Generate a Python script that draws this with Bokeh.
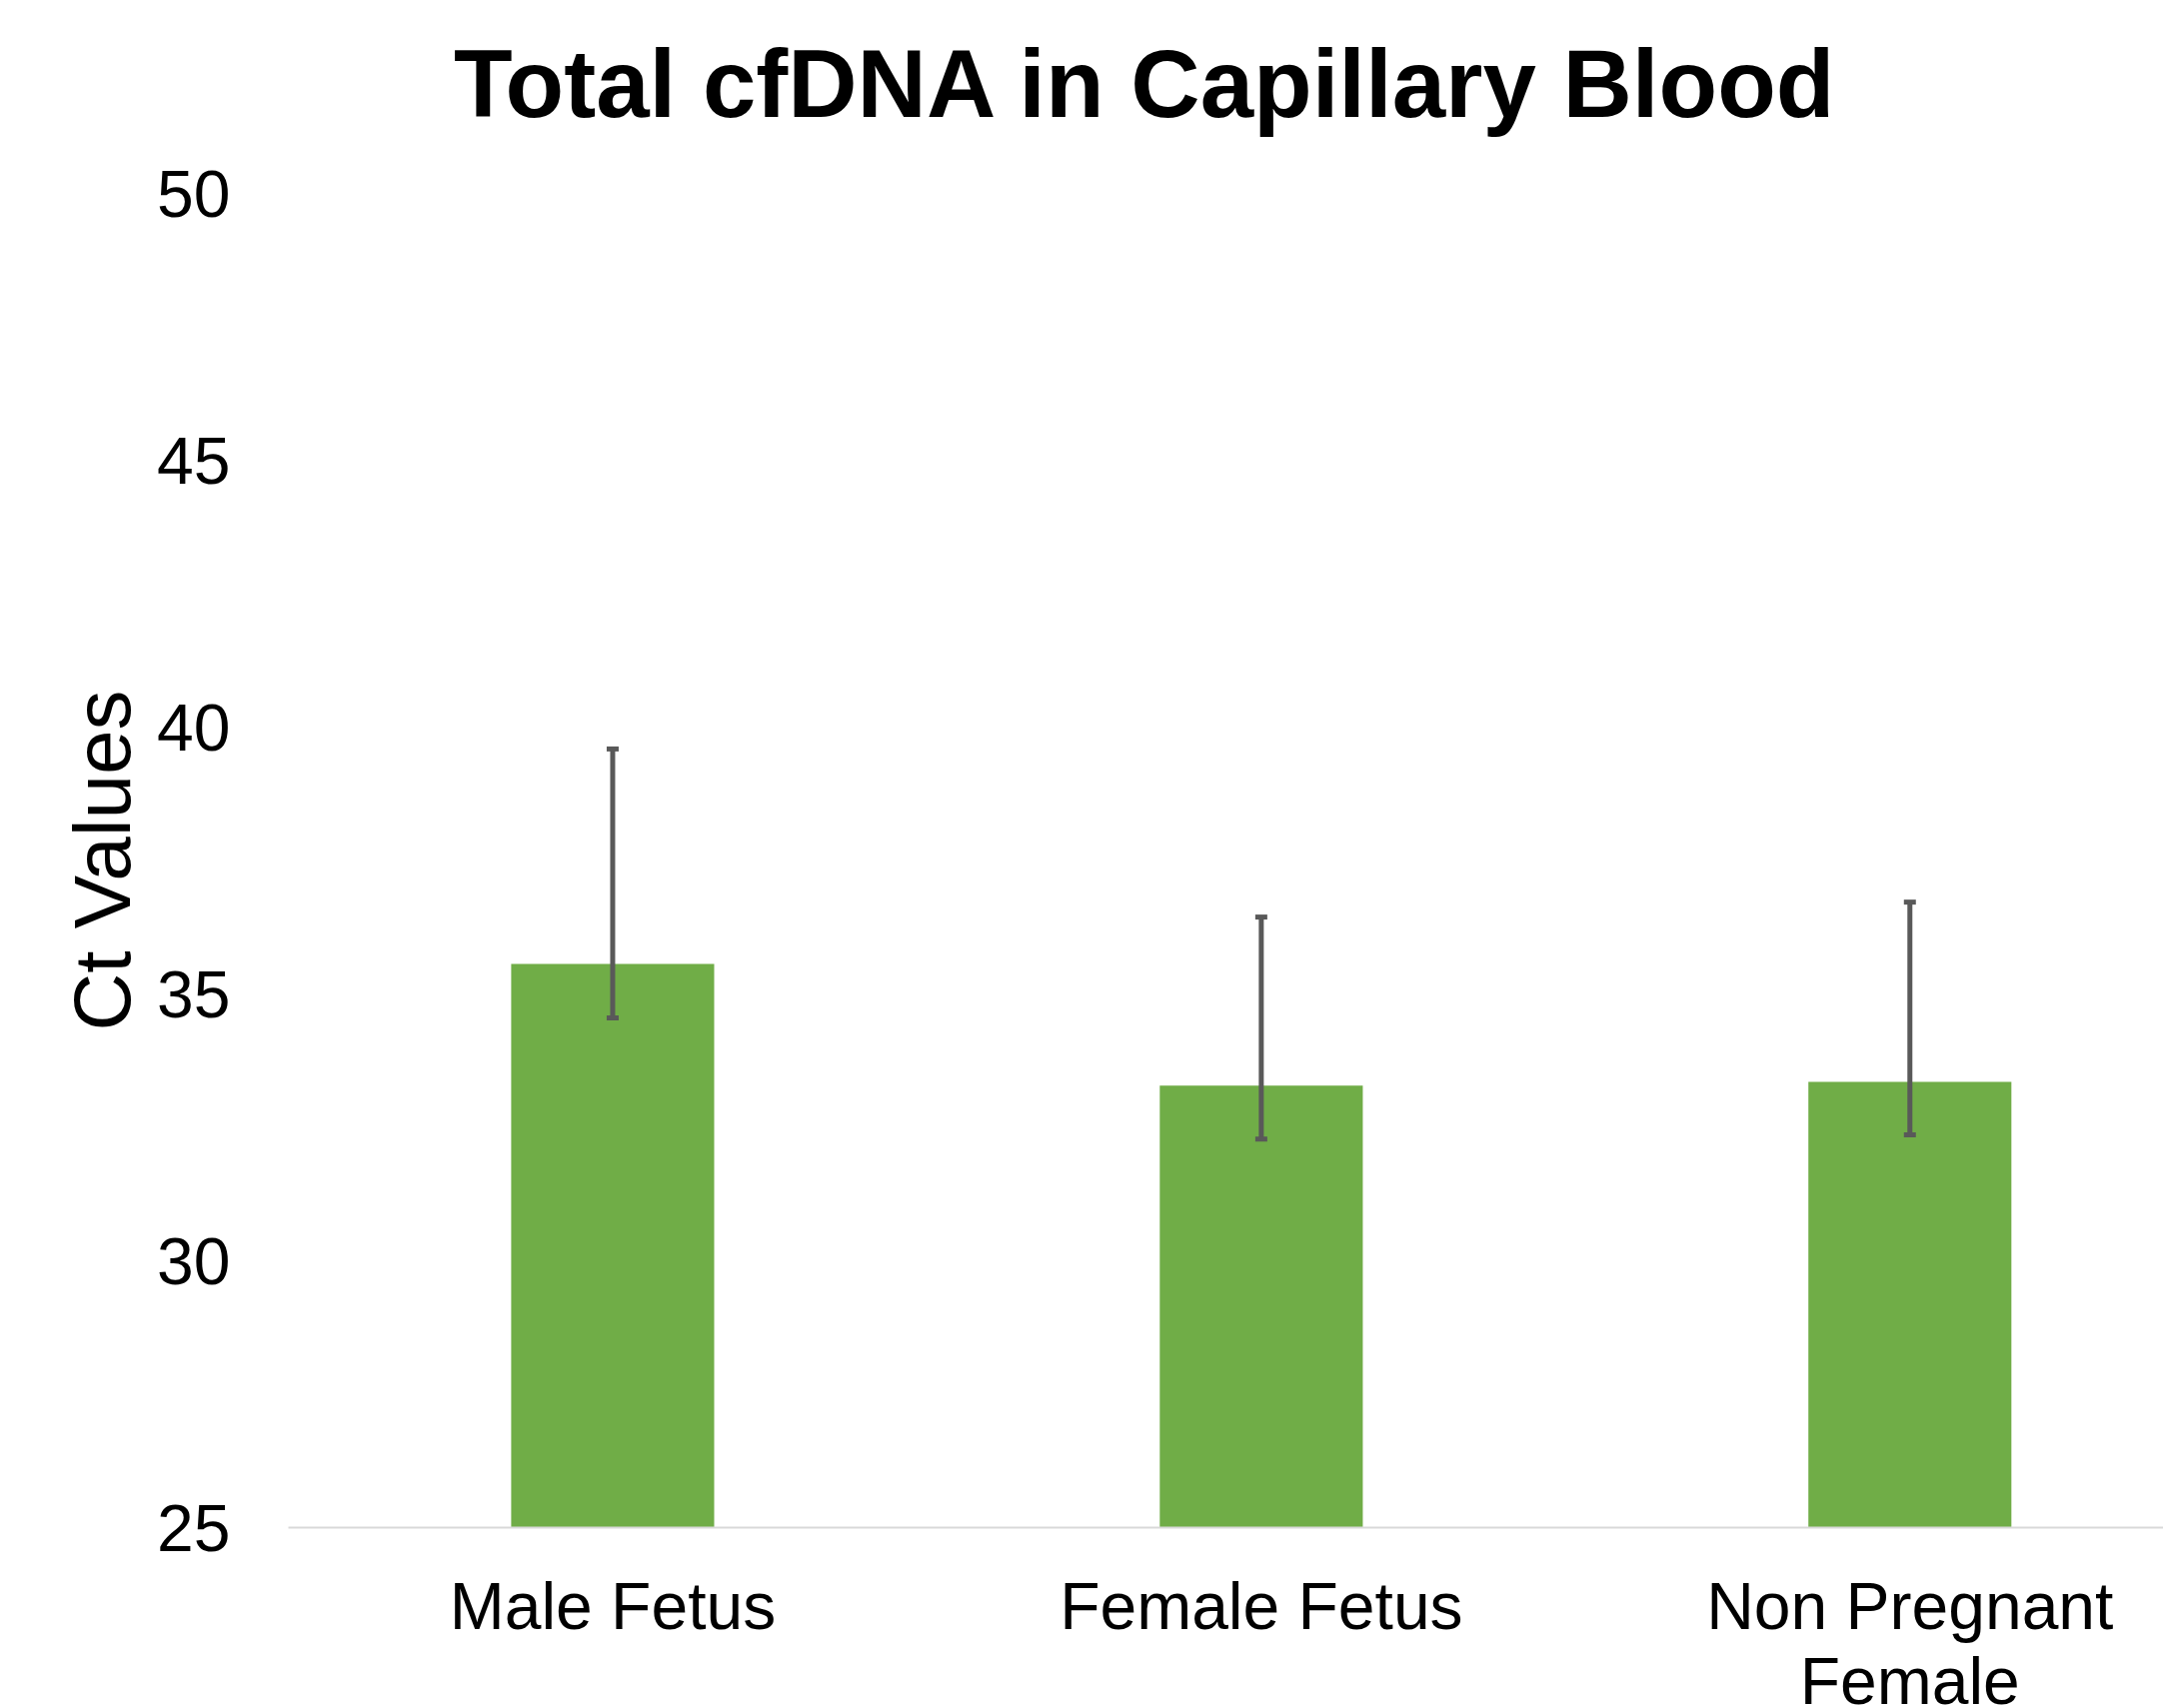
from bokeh.plotting import figure
from bokeh.layouts import column
from bokeh.models import Range1d, FixedTicker, ColumnDataSource, Whisker, TeeHead
from bokeh.core.properties import value
from bokeh.embed import file_html
from bokeh.resources import INLINE

title_text = "Total cfDNA in Capillary Blood"
categories = ["Male Fetus", "Female Fetus", "Non Pregnant\nFemale"]
ct_mean = [35.56, 33.28, 33.35]
err_upper = [39.59, 36.44, 36.72]
err_lower = [34.55, 32.28, 32.36]
y_ticks = [25, 30, 35, 40, 45, 50]

FONT = "Liberation Sans"
W, H = 2164, 1709
LEFT = 288
FRAME_TOP, FRAME_BOTTOM = 193, 1528
TOP_H = 153          # title strip height
MAIN_END = 1567      # where the category-label strip begins
xs = list(range(len(categories)))


def bare(fig):
    fig.outline_line_color = None
    fig.xgrid.grid_line_color = None
    fig.ygrid.grid_line_color = None
    fig.background_fill_color = "white"
    fig.border_fill_color = "white"


# ---- title strip (x in page pixels)
t = figure(width=W, height=TOP_H, output_backend="svg", toolbar_location=None,
           x_range=Range1d(LEFT, W), y_range=Range1d(-TOP_H, 0),
           x_axis_location=None, y_axis_location=None,
           min_border_left=LEFT, min_border_right=0, min_border_top=0, min_border_bottom=0)
bare(t)
t.text(x=[1146], y=[-29], text=[title_text], text_font=value(FONT),
       text_font_size=value("96px"), text_font_style="bold", text_color="black",
       text_align="center", text_baseline="top")

# ---- main chart
src = ColumnDataSource(dict(x=xs, top=ct_mean, upper=err_upper, lower=err_lower,
                            base=[y_ticks[0]] * len(xs)))
x_range = Range1d(-0.5, 2.391)
main_h = MAIN_END - TOP_H

p = figure(width=W, height=main_h, output_backend="svg", toolbar_location=None,
           x_range=x_range, y_range=Range1d(y_ticks[0], y_ticks[-1]),
           min_border_left=LEFT, min_border_right=0,
           min_border_top=FRAME_TOP - TOP_H,
           min_border_bottom=MAIN_END - FRAME_BOTTOM)
bare(p)

p.vbar(x="x", top="top", bottom="base", width=0.313, source=src,
       fill_color="#70ad47", line_color=None)

w = Whisker(base="x", upper="upper", lower="lower", source=src, level="overlay",
            line_color="#595959", line_width=5,
            upper_head=TeeHead(size=12, line_color="#595959", line_width=5),
            lower_head=TeeHead(size=12, line_color="#595959", line_width=5))
p.add_layout(w)

xa = p.xaxis[0]
xa.ticker = FixedTicker(ticks=[])
xa.major_tick_in = 0
xa.major_tick_out = 0
xa.minor_tick_line_color = None
xa.axis_line_color = "#d9d9d9"
xa.axis_line_width = 2

ya = p.yaxis[0]
ya.ticker = FixedTicker(ticks=y_ticks)
ya.major_label_text_font = FONT
ya.major_label_text_font_size = "66px"
ya.major_label_text_color = "black"
ya.major_label_standoff = 58
ya.major_tick_in = 0
ya.major_tick_out = 0
ya.minor_tick_line_color = None
ya.axis_line_color = None
ya.axis_label = "Ct Values"
ya.axis_label_text_font = FONT
ya.axis_label_text_font_size = "80px"
ya.axis_label_text_font_style = "normal"
ya.axis_label_text_color = "black"
ya.axis_label_standoff = 7

# ---- category labels strip (shares the main x scale)
strip_h = H - MAIN_END
q = figure(width=W, height=strip_h, output_backend="svg", toolbar_location=None,
           x_range=x_range, y_range=Range1d(-strip_h, 0),
           x_axis_location=None, y_axis_location=None,
           min_border_left=LEFT, min_border_right=0, min_border_top=0,
           min_border_bottom=0)
bare(q)

lab = ColumnDataSource(dict(x=xs, y=[-2] * len(xs), text=categories))
q.text(x="x", y="y", text="text", source=lab,
       text_font=value(FONT), text_font_size=value("66px"), text_color="black",
       text_align="center", text_baseline="top", text_line_height=1.02)

layout = column(t, p, q, spacing=0)
open("out.html", "w").write(file_html(layout, INLINE))
